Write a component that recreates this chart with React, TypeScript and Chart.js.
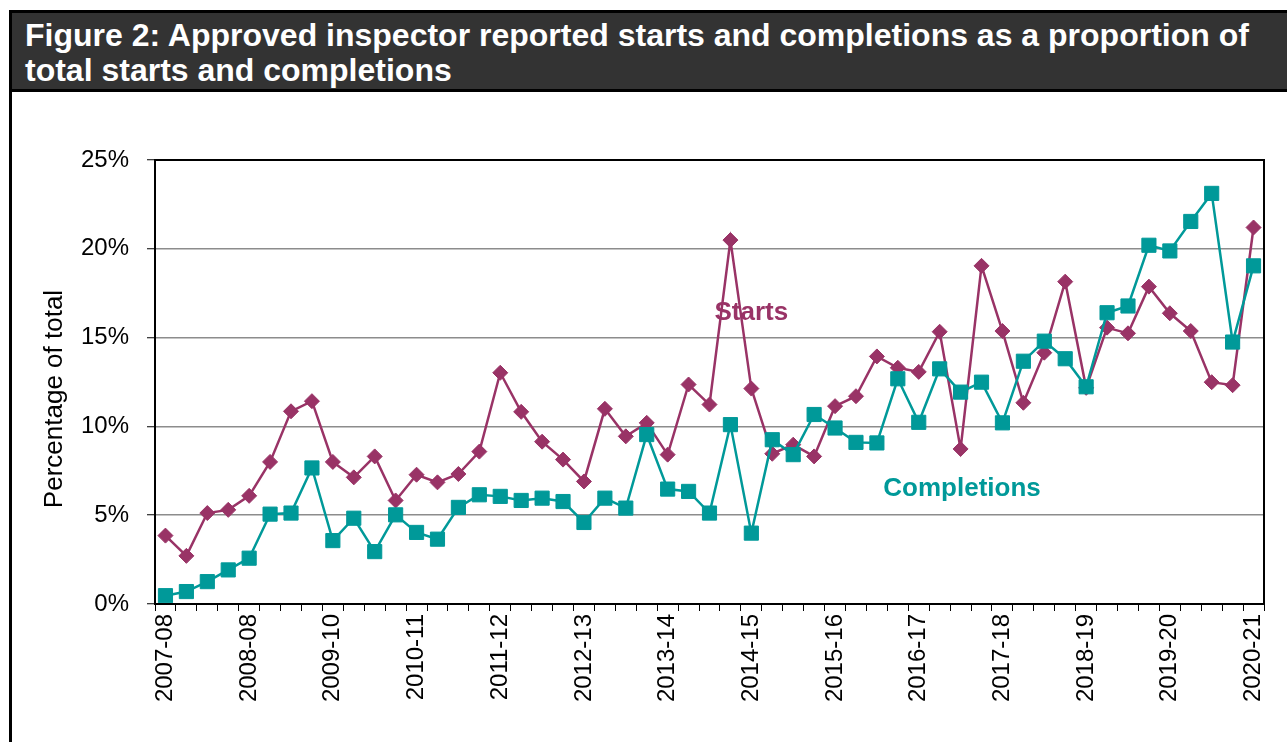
import React, { useEffect, useRef } from "react";
import { Chart, registerables } from "chart.js";

Chart.register(...registerables);

const yearLabels = [
  "2007-08", "2008-08", "2009-10", "2010-11", "2011-12", "2012-13", "2013-14",
  "2014-15", "2015-16", "2016-17", "2017-18", "2018-19", "2019-20", "2020-21",
];
const quarterNames = ["Q1", "Q2", "Q3", "Q4"];
const QUARTER_COUNT = 53;
const categories: string[] = Array.from({ length: QUARTER_COUNT }, (_, i) =>
  `${yearLabels[Math.floor(i / 4)]} ${quarterNames[i % 4]}`
);

const starts = [
  3.85, 2.71, 5.12, 5.3, 6.09, 8.0, 10.85, 11.42, 8.0, 7.13, 8.31, 5.83, 7.28,
  6.85, 7.32, 8.58, 13.02, 10.82, 9.14, 8.13, 6.9, 10.99, 9.44, 10.2, 8.41,
  12.36, 11.23, 20.49, 12.13, 8.46, 8.97, 8.31, 11.14, 11.7, 13.94, 13.3, 13.07,
  15.33, 8.73, 19.04, 15.37, 11.33, 14.15, 18.15, 12.17, 15.56, 15.24, 17.87,
  16.37, 15.37, 12.49, 12.32, 21.2,
];

const completions = [
  0.47, 0.7, 1.26, 1.92, 2.58, 5.06, 5.12, 7.66, 3.57, 4.83, 2.95, 5.02, 4.03,
  3.65, 5.44, 6.15, 6.06, 5.83, 5.96, 5.77, 4.59, 5.96, 5.4, 9.54, 6.47, 6.34,
  5.12, 10.1, 3.99, 9.25, 8.41, 10.67, 9.91, 9.1, 9.07, 12.68, 10.23, 13.24,
  11.93, 12.49, 10.2, 13.67, 14.8, 13.81, 12.23, 16.4, 16.78, 20.2, 19.88,
  21.54, 23.12, 14.75, 19.04,
];

const yTicks = [0, 5, 10, 15, 20, 25];
const yTitle = "Percentage of total";

// series name labels: [category index, value]
const startsLabelAt = [28.0, 16.4];
const completionsLabelAt = [38.07, 6.5];

const FONT = "'Liberation Sans', Arial, sans-serif";
const STARTS_COLOR = "#993366";
const COMPLETIONS_COLOR = "#009999";

const framePlugin = {
  id: "frameAndLabels",
  afterDatasetsDraw(chart: any) {
    const { ctx, chartArea, scales } = chart;
    ctx.save();
    ctx.strokeStyle = "#000";
    ctx.lineWidth = 2;
    ctx.strokeRect(chartArea.left, chartArea.top, chartArea.right - chartArea.left, chartArea.bottom - chartArea.top);
    ctx.font = `bold 26px ${FONT}`;
    ctx.textAlign = "center";
    ctx.textBaseline = "middle";
    ctx.fillStyle = STARTS_COLOR;
    ctx.fillText("Starts", scales.x.getPixelForValue(startsLabelAt[0]), scales.y.getPixelForValue(startsLabelAt[1]));
    ctx.fillStyle = COMPLETIONS_COLOR;
    ctx.fillText("Completions", scales.x.getPixelForValue(completionsLabelAt[0]), scales.y.getPixelForValue(completionsLabelAt[1]));
    // y axis title
    ctx.translate(43, 307);
    ctx.rotate(-Math.PI / 2);
    ctx.font = `26px ${FONT}`;
    ctx.fillStyle = "#000";
    ctx.fillText(yTitle, 0, 0);
    ctx.restore();
  },
};

function ChartView() {
  const ref = useRef<HTMLCanvasElement | null>(null);
  useEffect(() => {
    if (!ref.current) return;
    const chart = new Chart(ref.current, {
      type: "line",
      data: {
        labels: categories,
        datasets: [
          {
            label: "Starts",
            data: starts,
            borderColor: STARTS_COLOR,
            backgroundColor: STARTS_COLOR,
            borderWidth: 2.5,
            pointStyle: "rectRot",
            pointRadius: 7.5,
            pointBorderWidth: 1,
            pointBackgroundColor: STARTS_COLOR,
            pointBorderColor: STARTS_COLOR,
            tension: 0,
            order: 1,
          },
          {
            label: "Completions",
            data: completions,
            borderColor: COMPLETIONS_COLOR,
            backgroundColor: COMPLETIONS_COLOR,
            borderWidth: 2.5,
            pointStyle: "rect",
            pointRadius: 10,
            pointBorderWidth: 1,
            pointBackgroundColor: COMPLETIONS_COLOR,
            pointBorderColor: COMPLETIONS_COLOR,
            tension: 0,
            order: 0,
          },
        ],
      },
      options: {
        animation: false,
        responsive: false,
        maintainAspectRatio: false,
        layout: { padding: { top: 68, right: 23, left: 0, bottom: 0 } },
        plugins: { legend: { display: false }, tooltip: { enabled: false } },
        scales: {
          x: {
            type: "category",
            offset: true,
            grid: {
              offset: true,
              drawOnChartArea: false,
              drawTicks: true,
              tickLength: 7,
              tickColor: "#000",
              tickWidth: 1,
            },
            border: { display: true, color: "#000", width: 2 },
            ticks: {
              autoSkip: false,
              minRotation: 90,
              maxRotation: 90,
              padding: 3,
              color: "#000",
              font: { family: FONT, size: 24 },
              callback: (_v: any, i: number) => (i % 4 === 0 ? yearLabels[i / 4] : ""),
            },
            afterFit: (s: any) => {
              s.height = 138;
            },
          },
          y: {
            min: 0,
            max: 25,
            afterBuildTicks: (s: any) => {
              s.ticks = yTicks.map((v) => ({ value: v }));
            },
            grid: {
              color: "#8c8c8c",
              lineWidth: 1.5,
              drawTicks: true,
              tickLength: 8,
              tickColor: "#000",
              tickWidth: 1,
            },
            border: { display: true, color: "#000", width: 2 },
            ticks: {
              padding: 18,
              color: "#000",
              font: { family: FONT, size: 24 },
              callback: (v: any) => `${v}%`,
            },
            afterFit: (s: any) => {
              s.width = 143;
            },
          },
        },
      },
      plugins: [framePlugin],
    });
    return () => chart.destroy();
  }, []);
  return (
    <canvas
      ref={ref}
      width={1275}
      height={650}
      style={{ position: "absolute", left: 12, top: 92, width: 1275, height: 650 }}
    />
  );
}

export default function App() {
  return (
    <div
      style={{
        position: "fixed",
        left: 0,
        top: 0,
        width: 1287,
        height: 742,
        overflow: "hidden",
        background: "#fff",
      }}
    >
      <div
        style={{
          position: "absolute",
          left: 9,
          top: 10,
          width: 1400,
          height: 800,
          borderLeft: "3px solid #000",
          borderTop: "3px solid #000",
        }}
      />
      <div
        style={{
          position: "absolute",
          left: 12,
          top: 13,
          width: 1400,
          height: 79,
          background: "#333333",
          borderBottom: "3px solid #000",
          color: "#fff",
          fontFamily: FONT,
          fontWeight: "bold",
          fontSize: 32,
          lineHeight: "35px",
          paddingLeft: 13,
          paddingTop: 5,
          boxSizing: "border-box",
        }}
      >
        <div>Figure 2: Approved inspector reported starts and completions as a proportion of</div>
        <div>total starts and completions</div>
      </div>
      <ChartView />
    </div>
  );
}
